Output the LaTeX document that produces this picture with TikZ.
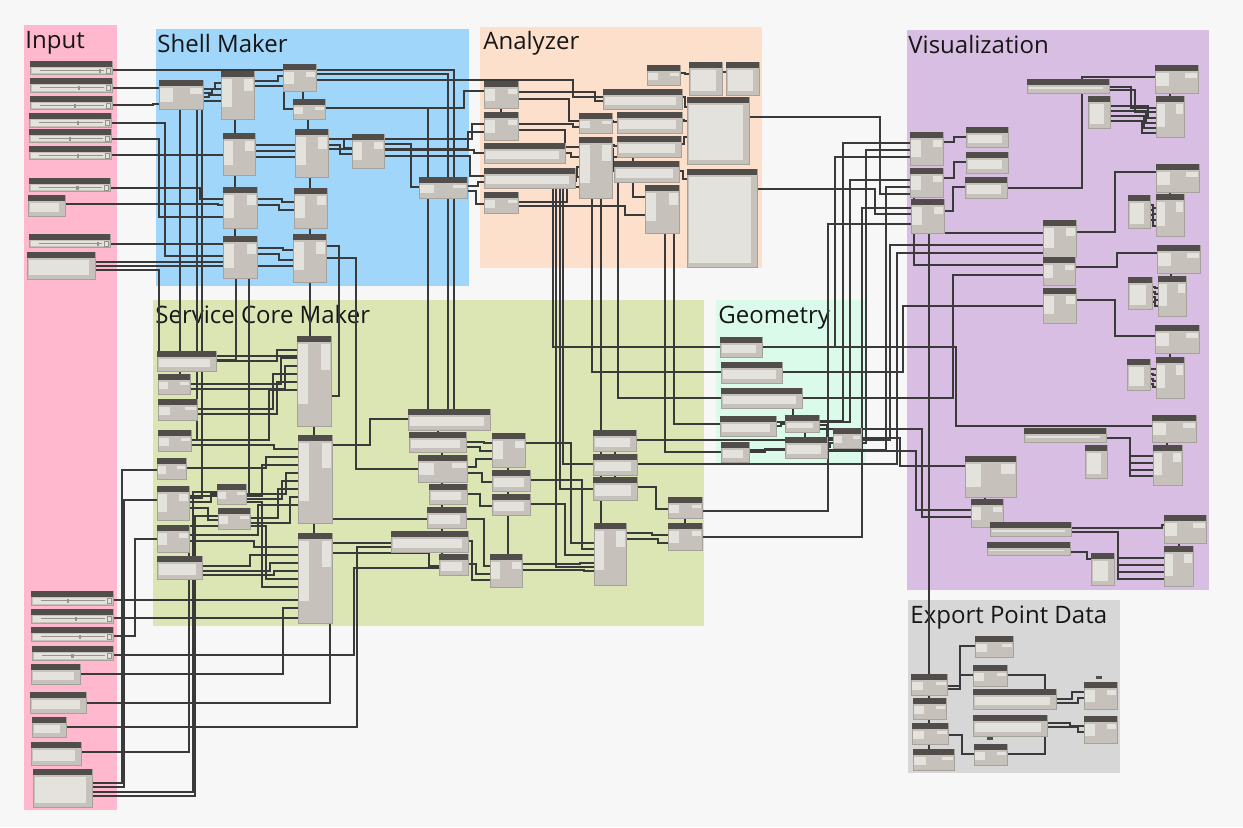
\documentclass[tikz,border=0pt]{standalone}
\usepackage{fontspec}
\setmainfont{Open Sans}
\usetikzlibrary{calc}
\pgfdeclarelayer{bg}
\pgfdeclarelayer{wirel}
\pgfsetlayers{bg,wirel,main}
\definecolor{canvas}{RGB}{247,247,247}
\definecolor{gInput}{RGB}{255,184,206}
\definecolor{gShell}{RGB}{160,214,250}
\definecolor{gAnal}{RGB}{253,224,203}
\definecolor{gCore}{RGB}{220,230,180}
\definecolor{gGeom}{RGB}{218,250,234}
\definecolor{gViz}{RGB}{216,190,226}
\definecolor{gExp}{RGB}{215,215,215}
\definecolor{headc}{RGB}{80,77,75}
\definecolor{bodyc}{RGB}{198,194,187}
\definecolor{lightc}{RGB}{228,226,221}
\definecolor{bordc}{RGB}{165,161,155}
\definecolor{wirec}{RGB}{58,58,58}
\definecolor{titlec}{RGB}{22,22,22}
\definecolor{trackc}{RGB}{150,146,140}
\newcommand\DNode[5]{%
 \node[nbody,minimum width=#4*0.5pt,minimum height=#5*0.5pt,anchor=north west] (#1) at (#2,#3) {};
 \fill[headc] (#1.north west) rectangle ($(#1.north east)+(0,6)$);
 \fill[lightc] ($(#1.north west)+(1,8)$) rectangle ($(#1.north west)+(0.32*#4,0.75*#5)$);
 \fill[lightc] ($(#1.north east)+(-0.3*#4,8)$) rectangle ($(#1.north east)+(-1.5,0.33*#5+4)$);
}
\newcommand\DWide[5]{%
 \node[nbody,minimum width=#4*0.5pt,minimum height=#5*0.5pt,anchor=north west] (#1) at (#2,#3) {};
 \fill[headc] (#1.north west) rectangle ($(#1.north east)+(0,6)$);
 \fill[lightc] ($(#1.north west)+(1.5,8)$) rectangle ($(#1.south east)+(-6,-4)$);
}
\newcommand\DSlider[6]{%
 \node[nbody,minimum width=#4*0.5pt,minimum height=#5*0.5pt,anchor=north west] (#1) at (#2,#3) {};
 \fill[headc] (#1.north west) rectangle ($(#1.north east)+(0,5.5)$);
 \fill[lightc] ($(#1.north west)+(2,7)$) rectangle ($(#1.south east)+(-2,-1.5)$);
 \draw[trackc,line width=0.35pt] ($(#1.north west)+(0.12*#4,9.8)$) -- ($(#1.north east)+(-8,9.8)$);
 \fill[trackc] ($(#1.north west)+(#6*#4-1.2,7.8)$) rectangle ($(#1.north west)+(#6*#4+1.2,11.8)$);
 \draw[trackc,line width=0.3pt] ($(#1.north east)+(-6,7.5)$) rectangle ($(#1.north east)+(-2,12)$);
}
% wires
\newcommand\WA[5]{\draw[wire] ([yshift=-#2*0.5pt]#1.north east) -- ++(#3,0) |- ([yshift=-#5*0.5pt]#4.north west);}
\newcommand\WB[5]{\draw[wire] ([yshift=-#2*0.5pt]#1.north east) -| ([xshift=-#5*0.5pt,yshift=-#4*0.5pt]#3.north west) -- ([yshift=-#4*0.5pt]#3.north west);}
\newcommand\WC[7]{\draw[wire] ([yshift=-#2*0.5pt]#1.north east) -| (#3,#4) -| ([xshift=-#7*0.5pt,yshift=-#6*0.5pt]#5.north west) -- ([yshift=-#6*0.5pt]#5.north west);}
\newcommand\WT[4]{\draw[wire] ([yshift=-#2*0.5pt]#1.north east) -| ([xshift=#4*0.5pt]#3.north west);}
\newcommand\WV[4]{\draw[wire] ([xshift=#2*0.5pt]#1.south west) -- ([xshift=#4*0.5pt]#3.north west);}
\newcommand\WS[4]{\draw[wire] ([xshift=#2*0.5pt]#1.south west) |- ([yshift=-#4*0.5pt]#3.north west);}
\begin{document}
\begin{tikzpicture}[x=0.5pt,y=-0.5pt,
 nbody/.style={fill=bodyc,draw=bordc,line width=0.3pt,inner sep=0pt,outer sep=0pt},
 wire/.style={draw=wirec,line width=0.7pt},
 ttl/.style={font=\fontsize{12}{14}\selectfont,text=titlec,anchor=base west,inner sep=0pt}]
\useasboundingbox (0,0) rectangle (1243,827);
\begin{pgfonlayer}{bg}
\fill[canvas] (0,0) rectangle (1243,827);
\fill[gInput] (24,25) rectangle (117,810);
\fill[gShell] (156,29) rectangle (469,286);
\fill[gAnal] (480,27) rectangle (762,268);
\fill[gCore] (153,300) rectangle (704,626);
\fill[gGeom] (716,300) rectangle (866,465);
\fill[gViz] (907,30) rectangle (1209,590);
\fill[gExp] (908,600) rectangle (1120,773);
\node[ttl] (tIn) at (25,48) {Input};
\node[ttl] (tSh) at (157,52) {Shell Maker};
\node[ttl] (tAn) at (483,49) {Analyzer};
\node[ttl] (tSc) at (155,323) {Service Core Maker};
\node[ttl] (tGe) at (718,323) {Geometry};
\node[ttl] (tVi) at (908,53) {Visualization};
\node[ttl] (tEx) at (910,623) {Export Point Data};
\end{pgfonlayer}
% ---------------- Input
\DSlider{i1}{30}{61}{82}{13}{0.85}
\DSlider{i2}{30}{78}{82}{14}{0.6}
\DSlider{i3}{30}{96}{82}{13}{0.55}
\DSlider{i4}{29}{113}{82}{14}{0.6}
\DSlider{i5}{29}{129}{82}{13}{0.5}
\DSlider{i6}{29}{146}{82}{13}{0.6}
\DSlider{i7}{29}{178}{81}{13}{0.6}
\DWide{i8}{28}{195}{37}{21}
\DSlider{i9}{29}{234}{81}{13}{0.85}
\DWide{i10}{27}{252}{68}{27}
\DSlider{j1}{31}{591}{82}{14}{0.45}
\DSlider{j2}{31}{609}{82}{14}{0.55}
\DSlider{j3}{31}{627}{82}{14}{0.6}
\DSlider{j4}{32}{646}{81}{14}{0.5}
\DWide{j5}{31}{664}{49}{20}
\DWide{j6}{30}{692}{56}{21}
\DWide{j7}{32}{717}{34}{20}
\DWide{j8}{31}{742}{50}{23}
\DWide{j9}{33}{769}{59}{38}
% ---------------- Shell Maker
\DNode{s1}{159}{80}{44}{29}
\DNode{s2}{221}{71}{33}{48}
\DNode{s3}{283}{64}{33}{27}
\DNode{s4}{293}{99}{32}{20}
\DNode{s5}{223}{133}{32}{42}
\DNode{s6}{295}{129}{33}{48}
\DNode{s7}{352}{134}{32}{34}
\DNode{s8}{419}{177}{48}{21}
\DNode{s9}{223}{187}{34}{41}
\DNode{s10}{294}{188}{33}{40}
\DNode{s11}{223}{236}{34}{42}
\DNode{s12}{293}{234}{33}{48}
% ---------------- Analyzer
\DNode{a1}{484}{81}{34}{27}
\DNode{a2}{484}{112}{34}{28}
\DWide{a3}{484}{143}{81}{20}
\DWide{a4}{484}{168}{91}{20}
\DNode{a5}{484}{192}{34}{21}
\DWide{a6}{603}{89}{79}{20}
\DNode{a7}{579}{113}{33}{20}
\DNode{a8}{579}{137}{33}{61}
\DWide{a9}{617}{112}{65}{21}
\DWide{a10}{617}{136}{64}{21}
\DWide{a11}{614}{161}{65}{21}
\DNode{a12}{645}{185}{34}{48}
\DNode{a13}{647}{65}{33}{20}
\DWide{a14}{689}{62}{33}{33}
\DWide{a15}{726}{62}{33}{33}
\DWide{a16}{687}{97}{62}{67}
\DWide{a17}{687}{169}{70}{98}
% ---------------- Service Core Maker
\DWide{c1}{157}{351}{59}{20}
\DNode{c2}{158}{374}{32}{20}
\DNode{c3}{158}{399}{39}{21}
\DNode{c4}{158}{430}{33}{21}
\DNode{c5}{157}{458}{29}{21}
\DNode{c6}{157}{486}{32}{34}
\DNode{c7}{157}{525}{32}{27}
\DWide{c8}{157}{556}{45}{23}
\DNode{c9}{217}{484}{29}{20}
\DNode{c10}{218}{508}{32}{21}
\DNode{c11}{297}{336}{34}{90}
\DNode{c12}{298}{435}{34}{88}
\DNode{c13}{298}{533}{34}{90}
\DWide{c14}{408}{409}{82}{21}
\DWide{c15}{409}{432}{57}{20}
\DNode{c16}{418}{455}{49}{27}
\DWide{c17}{429}{484}{38}{20}
\DWide{c18}{427}{507}{39}{21}
\DWide{c19}{391}{531}{77}{21}
\DWide{c20}{439}{554}{29}{21}
\DNode{c21}{492}{433}{33}{34}
\DWide{c22}{492}{470}{38}{21}
\DWide{c23}{492}{494}{38}{21}
\DNode{c24}{490}{554}{32}{33}
\DWide{c25}{593}{430}{43}{21}
\DWide{c26}{593}{454}{44}{21}
\DWide{c27}{593}{477}{44}{23}
\DNode{c28}{594}{523}{32}{62}
\DNode{c29}{668}{497}{34}{21}
\DNode{c30}{668}{523}{34}{27}
% ---------------- Geometry
\DWide{g1}{720}{337}{42}{20}
\DWide{g2}{721}{362}{61}{21}
\DWide{g3}{721}{388}{81}{20}
\DWide{g4}{720}{416}{56}{20}
\DWide{g5}{721}{442}{28}{20}
\DWide{g6}{785}{415}{34}{17}
\DWide{g7}{785}{437}{42}{21}
\DNode{g8}{833}{428}{28}{20}
% ---------------- Visualization
\DWide{v1}{1027}{79}{82}{14}
\DNode{v2}{1155}{65}{43}{28}
\DNode{v3}{1156}{96}{28}{41}
\DWide{v4}{1088}{96}{22}{32}
\DNode{v5}{910}{132}{33}{33}
\DNode{v6}{910}{168}{33}{29}
\DNode{v7}{911}{199}{33}{34}
\DWide{v8}{966}{127}{42}{20}
\DWide{v9}{966}{152}{42}{21}
\DWide{v10}{965}{177}{42}{21}
\DNode{v11}{1043}{220}{33}{37}
\DNode{v12}{1043}{257}{32}{28}
\DNode{v13}{1043}{288}{33}{35}
\DNode{v14}{1156}{164}{43}{28}
\DNode{v15}{1156}{194}{28}{42}
\DWide{v16}{1128}{195}{22}{33}
\DNode{v17}{1157}{245}{43}{28}
\DNode{v18}{1158}{276}{28}{40}
\DWide{v19}{1128}{277}{24}{32}
\DNode{v20}{1155}{325}{44}{28}
\DNode{v21}{1156}{357}{28}{41}
\DWide{v22}{1127}{359}{23}{31}
\DNode{v23}{1152}{415}{44}{27}
\DNode{v24}{1153}{445}{29}{40}
\DWide{v25}{1024}{428}{82}{14}
\DWide{v26}{1085}{445}{22}{33}
\DNode{v27}{965}{456}{51}{41}
\DNode{v28}{971}{499}{32}{28}
\DWide{v29}{990}{522}{81}{14}
\DWide{v30}{987}{542}{83}{13}
\DNode{v31}{1164}{515}{42}{28}
\DNode{v32}{1164}{546}{29}{40}
\DWide{v33}{1091}{553}{23}{32}
% ---------------- Export
\DNode{e1}{911}{674}{36}{21}
\DNode{e2}{913}{698}{33}{21}
\DNode{e3}{912}{723}{36}{21}
\DNode{e4}{913}{749}{41}{21}
\DNode{e5}{975}{636}{38}{21}
\DNode{e6}{973}{665}{34}{21}
\DWide{e7}{973}{689}{83}{20}
\DWide{e8}{973}{715}{74}{21}
\DNode{e9}{974}{744}{33}{21}
\DNode{e10}{1084}{682}{33}{27}
\DNode{e11}{1084}{716}{33}{27}
\fill[headc] (1096,676) rectangle (1102,678.5);
\fill[headc] (987,737) rectangle (993,739.5);
% ================= wires
\begin{pgfonlayer}{wirel}
% input -> shell
\WT{i1}{9}{c14}{46}
\WB{i2}{10}{s1}{8}{6}
\WB{i3}{9}{s1}{24}{6}
\WA{i4}{10}{54}{s11}{20}
\WA{i5}{10}{48}{s9}{30}
\WB{i6}{9}{s5}{22}{10}
\WA{i7}{10}{90}{s9}{12}
\WB{i8}{9}{s9}{18}{5}
\WB{i9}{10}{s11}{8}{4}
\WA{i10}{10}{50}{s11}{26}
\WA{i10}{14}{57}{s12}{32}
\WA{i10}{18}{64}{c11}{20}
% shell internal
\WB{s1}{9}{s2}{12}{6}
\WB{s1}{13}{s2}{18}{9}
\WB{s1}{17}{s2}{24}{12}
\WB{s1}{21}{s2}{30}{15}
\WA{s2}{10}{24}{s3}{12}
\WA{s2}{15}{30}{s4}{10}
\WV{s2}{14}{s5}{12}
\WV{s5}{12}{s9}{12}
\WV{s9}{12}{s11}{12}
\WV{s3}{20}{s4}{10}
\WV{s4}{15}{s6}{13}
\WV{s6}{15}{s10}{16}
\WV{s10}{16}{s12}{17}
\WV{s12}{17}{c11}{13}
\WB{s5}{12}{s6}{16}{10}
\WB{s5}{18}{s6}{22}{14}
\WB{s5}{24}{s6}{28}{18}
\WB{s9}{12}{s10}{14}{12}
\WB{s9}{18}{s10}{22}{15}
\WB{s11}{12}{s12}{16}{10}
\WB{s11}{18}{s12}{26}{14}
\WB{s6}{10}{s7}{14}{8}
\WB{s6}{16}{s7}{20}{12}
\WT{s3}{10}{c14}{40}
\WT{s4}{9}{c14}{20}
\WB{s7}{10}{s8}{10}{8}
\WB{s7}{16}{a3}{10}{10}
\WB{s7}{22}{a4}{8}{14}
\WB{s8}{9}{a4}{14}{6}
\WB{s8}{14}{a5}{12}{8}
\WB{s4}{9}{a1}{10}{20}
\WB{s6}{10}{a2}{12}{12}
\WB{s6}{20}{a2}{20}{16}
\WB{s3}{16}{a6}{8}{30}
\WS{s1}{21}{c2}{10}
\WS{s1}{38}{c4}{10}
\WS{s1}{43}{c6}{12}
\draw[wire] ([xshift=6.5pt]s11.south west) |- ([yshift=-4.5pt]c1.north east);
\draw[wire] ([xshift=13pt]s11.south west) |- ([yshift=-5pt]c9.north east);
\WA{s12}{12}{13}{c11}{60}
\WA{s12}{24}{30}{c16}{14}
% analyzer internal
\WB{a1}{11}{a6}{12}{8}
\WB{a1}{18}{a7}{8}{10}
\WV{a1}{17}{a2}{17}
\WB{a2}{12}{a7}{14}{6}
\WB{a2}{18}{a8}{10}{14}
\WB{a3}{10}{a8}{20}{8}
\WB{a4}{9}{a8}{30}{2}
\WB{a4}{13}{a8}{40}{3}
\WB{a5}{10}{a8}{50}{12}
\WB{a7}{8}{a9}{10}{4}
\WB{a8}{8}{a10}{10}{3}
\WB{a8}{12}{a11}{10}{1}
\WB{a8}{20}{a12}{12}{12}
\WB{a5}{14}{a12}{30}{20}
\WB{a6}{8}{a16}{10}{2}
\WB{a9}{8}{a16}{24}{3}
\WB{a10}{8}{a16}{40}{3}
\WB{a11}{10}{a17}{10}{4}
\WB{a13}{8}{a14}{12}{4}
\WB{a14}{10}{a15}{10}{2}
% analyzer -> core / geometry
\WS{a4}{69}{g1}{10}
\WS{a4}{72}{c28}{44}
\WS{a4}{76}{c27}{12}
\WS{a4}{79}{c26}{10}
\WS{a8}{13}{g2}{10}
\WS{a8}{22}{c28}{14}
\WS{a11}{4}{g3}{10}
\WS{a12}{29}{g4}{8}
\WS{a12}{20}{g5}{10}
% input bottom
\WB{j1}{9}{c13}{67}{10}
\WB{j2}{9}{c13}{85}{14}
\WA{j3}{9}{22}{c7}{14}
\WC{j4}{9}{354}{568}{c20}{14}{6}
\WC{j5}{10}{283}{608}{c13}{75}{6}
\draw[wire] ([yshift=-5.5pt]j6.north east) -| ([xshift=-1pt]c13.south east);
\WC{j7}{10}{357}{547}{c19}{16}{8}
\WC{j8}{10}{189}{526}{c10}{18}{6}
\WA{j9}{14}{30}{c5}{12}
\WA{j9}{18}{32}{c6}{14}
\WA{j9}{23}{101}{c9}{8}
\WA{j9}{27}{103}{c10}{8}
% core internal
\WB{c1}{10}{c11}{14}{20}
\WB{c2}{10}{c11}{22}{16}
\WB{c2}{15}{c11}{30}{12}
\WB{c3}{10}{c11}{38}{24}
\WB{c3}{15}{c11}{46}{20}
\WB{c4}{10}{c11}{54}{28}
\WB{c4}{15}{c12}{14}{24}
\WB{c5}{10}{c12}{22}{32}
\WB{c6}{10}{c12}{30}{36}
\WB{c6}{16}{c9}{10}{6}
\WB{c6}{22}{c10}{12}{10}
\WB{c9}{10}{c12}{38}{12}
\WB{c9}{15}{c12}{46}{16}
\WB{c10}{10}{c12}{54}{20}
\WB{c10}{15}{c12}{62}{8}
\WB{c7}{10}{c12}{70}{40}
\WB{c7}{16}{c13}{14}{44}
\WB{c8}{10}{c13}{22}{48}
\WB{c8}{15}{c13}{30}{28}
\WB{c8}{19}{c13}{38}{24}
\WB{c10}{18}{c13}{46}{32}
\WB{c9}{18}{c13}{54}{36}
\WV{c11}{17}{c12}{16}
\WV{c12}{16}{c13}{16}
\WA{c12}{10}{38}{c14}{10}
\WB{c12}{84}{c18}{12}{6}
\WB{c13}{10}{c19}{12}{8}
\WB{c13}{20}{c20}{12}{10}
\WV{c14}{30}{c15}{29}
\WV{c15}{33}{c16}{24}
\WV{c16}{24}{c17}{13}
\WV{c17}{13}{c18}{15}
\WV{c18}{15}{c19}{51}
\WV{c19}{51}{c20}{3}
\WB{c15}{10}{c21}{10}{8}
\WB{c15}{15}{c21}{18}{12}
\WB{c16}{12}{c21}{26}{16}
\WB{c16}{18}{c22}{12}{10}
\WB{c17}{10}{c23}{12}{12}
\WB{c18}{12}{c24}{12}{6}
\WB{c20}{10}{c24}{20}{14}
\WB{c19}{10}{c24}{26}{18}
\WV{c21}{16}{c22}{16}
\WV{c22}{16}{c23}{16}
\WV{c23}{16}{c24}{18}
\WA{c21}{10}{46}{c28}{20}
\WA{c22}{10}{52}{c28}{26}
\WA{c23}{10}{35}{c28}{32}
\WB{c24}{10}{c28}{40}{14}
\WB{c24}{16}{c28}{48}{10}
\WV{c25}{22}{c26}{22}
\WV{c26}{22}{c27}{22}
\WB{c27}{10}{c29}{12}{12}
\WB{c28}{10}{c30}{12}{16}
\WB{c28}{16}{c30}{20}{10}
\WV{c29}{17}{c30}{17}
% geometry
\WV{g3}{72}{g6}{8}
\WB{g4}{10}{g6}{9}{4}
\WB{g5}{10}{g7}{12}{20}
\WV{g6}{20}{g7}{20}
\WB{g6}{10}{g8}{10}{6}
\WB{g7}{10}{g8}{15}{3}
% to visualization
\WC{g1}{10}{956}{426}{v23}{11}{6}
\WC{g1}{10}{835}{157}{v5}{25}{4}
\WC{g2}{10}{903}{306}{v13}{18}{4}
\WC{g3}{10}{953}{275}{v12}{18}{4}
\WC{g8}{10}{900}{466}{v27}{10}{4}
\WC{g7}{14}{916}{510}{v28}{11}{4}
\WC{g6}{14}{922}{517}{v28}{18}{4}
\WC{g6}{6}{843}{143}{v5}{11}{4}
\WC{g7}{6}{866}{150}{v5}{18}{4}
\WC{g4}{6}{850}{180}{v6}{12}{4}
\WC{g5}{8}{886}{187}{v6}{19}{4}
\WC{c30}{14}{862}{208}{v7}{9}{4}
\WC{c29}{14}{828}{224}{v7}{25}{4}
\WC{a17}{20}{875}{214}{v7}{15}{4}
\WC{a16}{20}{880}{194}{v6}{26}{4}
\WC{c25}{10}{890}{245}{v11}{25}{4}
\WC{c26}{10}{897}{253}{v11}{33}{4}
% visualization internal
\WV{v7}{18}{e1}{18}
\WS{v7}{24}{v11}{13}
\WS{v6}{4}{v12}{8}
\WA{v1}{8}{22}{v3}{12}
\WA{v1}{11}{26}{v3}{16}
\WC{v10}{11}{1082}{77}{v2}{12}{4}
\WB{v4}{10}{v3}{22}{8}
\WB{v4}{15}{v3}{27}{10}
\WB{v4}{20}{v3}{32}{12}
\WB{v4}{25}{v3}{37}{14}
\WV{v2}{15}{v3}{14}
\WB{v5}{10}{v8}{10}{12}
\WB{v6}{10}{v9}{10}{12}
\WB{v7}{12}{v10}{10}{12}
\WC{v11}{12}{1115}{172}{v14}{8}{4}
\WC{v12}{10}{1117}{253}{v17}{8}{4}
\WC{v13}{12}{1115}{336}{v20}{11}{4}
\WV{v14}{14}{v15}{14}
\WV{v17}{14}{v18}{13}
\WV{v20}{15}{v21}{14}
\WV{v23}{15}{v24}{14}
\WV{v31}{15}{v32}{15}
\WV{v27}{20}{v28}{14}
\WB{v16}{10}{v15}{14}{3}
\WB{v16}{15}{v15}{20}{3}
\WB{v16}{20}{v15}{26}{3}
\WB{v16}{25}{v15}{32}{3}
\WB{v19}{10}{v18}{12}{3}
\WB{v19}{15}{v18}{18}{3}
\WB{v19}{20}{v18}{24}{3}
\WB{v19}{25}{v18}{30}{3}
\WB{v22}{10}{v21}{12}{3}
\WB{v22}{15}{v21}{18}{3}
\WB{v22}{20}{v21}{24}{3}
\WB{v22}{25}{v21}{30}{3}
\WA{v25}{10}{24}{v24}{11}
\WA{v25}{10}{24}{v24}{18}
\WA{v25}{10}{24}{v24}{25}
\WA{v25}{10}{24}{v24}{31}
\WB{v29}{6}{v31}{10}{2}
\WA{v29}{10}{47}{v32}{12}
\WA{v29}{10}{47}{v32}{19}
\WA{v29}{10}{47}{v32}{26}
\WA{v29}{10}{47}{v32}{33}
\WB{v30}{10}{v33}{6}{4}
% export
\WA{e1}{12}{13}{e5}{10}
\WA{e1}{15}{13}{e6}{10}
\WV{e1}{18}{e2}{16}
\WV{e2}{16}{e3}{17}
\WV{e3}{17}{e4}{16}
\WA{e3}{12}{14}{e9}{10}
\WT{e6}{10}{e7}{72}
\draw[wire] ([yshift=-5pt]e9.north east) -| ([xshift=36pt]e8.south west);
\WB{e7}{10}{e10}{10}{12}
\WB{e7}{14}{e10}{16}{6}
\WB{e8}{8}{e11}{10}{14}
\WB{e8}{12}{e11}{16}{6}
\end{pgfonlayer}
\end{tikzpicture}
\end{document}
